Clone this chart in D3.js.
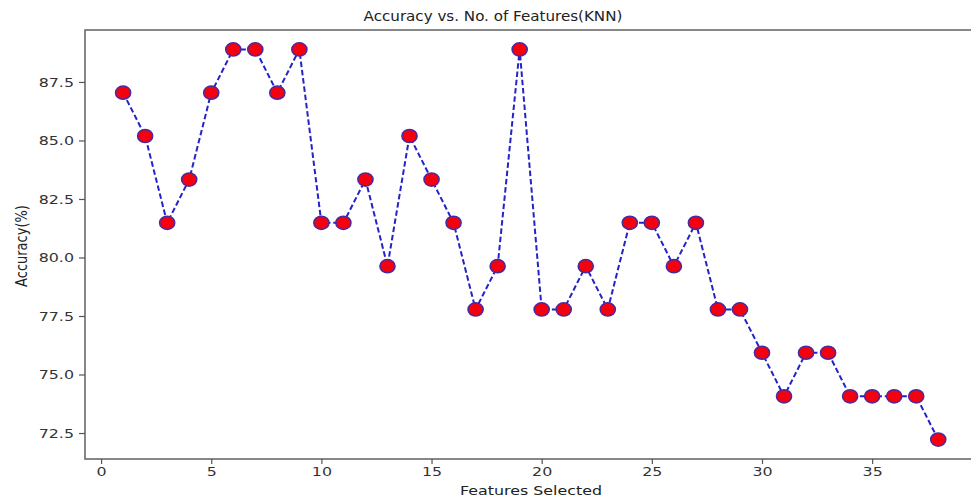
<!DOCTYPE html>
<html>
<head>
<meta charset="utf-8">
<script src="https://cdn.jsdelivr.net/npm/d3@7"></script>
<style>
  body { margin: 0; background: #fff; }
  text { font-family: "DejaVu Sans", sans-serif; }
</style>
</head>
<body>
<div id="chart"></div>
<script>
// data start
var features = [1, 2, 3, 4, 5, 6, 7, 8, 9, 10, 11, 12, 13, 14, 15, 16, 17, 18, 19,
  20, 21, 22, 23, 24, 25, 26, 27, 28, 29, 30, 31, 32, 33, 34, 35, 36, 37, 38];
var accuracy = [87.04, 85.19, 81.48, 83.33, 87.04, 88.89, 88.89, 87.04, 88.89, 81.48,
  81.48, 83.33, 79.63, 85.19, 83.33, 81.48, 77.78, 79.63, 88.89, 77.78,
  77.78, 79.63, 77.78, 81.48, 81.48, 79.63, 81.48, 77.78, 77.78, 75.93,
  74.07, 75.93, 75.93, 74.07, 74.07, 74.07, 74.07, 72.22];
var xTicks = [0, 5, 10, 15, 20, 25, 30, 35];
var yTicks = [72.5, 75.0, 77.5, 80.0, 82.5, 85.0, 87.5];
// data end

function createChart() {
  var W = 971, H = 502;
  var plot = { left: 85, top: 30, right: 979, bottom: 459 };
  var stretch = 1.22; // text in the picture is a bit wide

  var svg = d3.select("#chart").append("svg")
    .attr("width", W)
    .attr("height", H);

  var x = d3.scaleLinear().domain([-0.73, 39.85]).range([plot.left, plot.right]);
  var y = d3.scaleLinear().domain([71.39, 89.72]).range([plot.bottom, plot.top]);

  var data = features.map((f, i) => ({ f: f, v: accuracy[i] }));

  // frame
  svg.append("rect")
    .attr("x", plot.left)
    .attr("y", plot.top)
    .attr("width", plot.right - plot.left)
    .attr("height", plot.bottom - plot.top)
    .attr("fill", "none")
    .attr("stroke", "#6a6a6a")
    .attr("stroke-width", 1.6);

  // x axis
  var gx = svg.append("g")
    .attr("transform", "translate(0," + plot.bottom + ")")
    .call(d3.axisBottom(x).tickValues(xTicks).tickSize(5).tickPadding(3).tickFormat(d3.format("d")));
  gx.select(".domain").remove();
  gx.selectAll(".tick line").attr("stroke", "#555").attr("stroke-width", 1.2);
  gx.selectAll(".tick text")
    .attr("fill", "#333")
    .attr("font-size", 13)
    .attr("transform", "scale(" + stretch + ",1)");

  // y axis
  var gy = svg.append("g")
    .attr("transform", "translate(" + plot.left + ",0)")
    .call(d3.axisLeft(y).tickValues(yTicks).tickSize(6).tickPadding(0).tickFormat(d3.format(".1f")));
  gy.select(".domain").remove();
  gy.selectAll(".tick line").attr("stroke", "#555").attr("stroke-width", 1.2);
  gy.selectAll(".tick text")
    .attr("fill", "#333")
    .attr("font-size", 13)
    .attr("x", -11 / stretch)
    .attr("transform", "scale(" + stretch + ",1)");

  // dashed line
  var line = d3.line()
    .x(d => x(d.f))
    .y(d => y(d.v));

  svg.append("path")
    .datum(data)
    .attr("d", line)
    .attr("fill", "none")
    .attr("stroke", "#2323c8")
    .attr("stroke-width", 2)
    .attr("stroke-dasharray", "5.5,2.8");

  // markers
  svg.append("g")
    .selectAll("ellipse")
    .data(data)
    .enter().append("ellipse")
    .attr("cx", d => x(d.f))
    .attr("cy", d => y(d.v))
    .attr("rx", 7.6)
    .attr("ry", 6.6)
    .attr("fill", "#f5000f")
    .attr("stroke", "#4a2a9e")
    .attr("stroke-width", 1.5);

  // title
  svg.append("text")
    .attr("transform", "translate(493,21) scale(1.08,1)")
    .attr("text-anchor", "middle")
    .attr("font-size", 14)
    .attr("fill", "#222")
    .text("Accuracy vs. No. of Features(KNN)");

  // x label
  svg.append("text")
    .attr("transform", "translate(531,495) scale(" + stretch + ",1)")
    .attr("text-anchor", "middle")
    .attr("font-size", 13)
    .attr("fill", "#222")
    .text("Features Selected");

  // y label
  svg.append("text")
    .attr("transform", "translate(27,246) rotate(-90) scale(1," + stretch + ")")
    .attr("text-anchor", "middle")
    .attr("font-size", 13)
    .attr("fill", "#222")
    .text("Accuracy(%)");
}

createChart();
</script>
</body>
</html>
